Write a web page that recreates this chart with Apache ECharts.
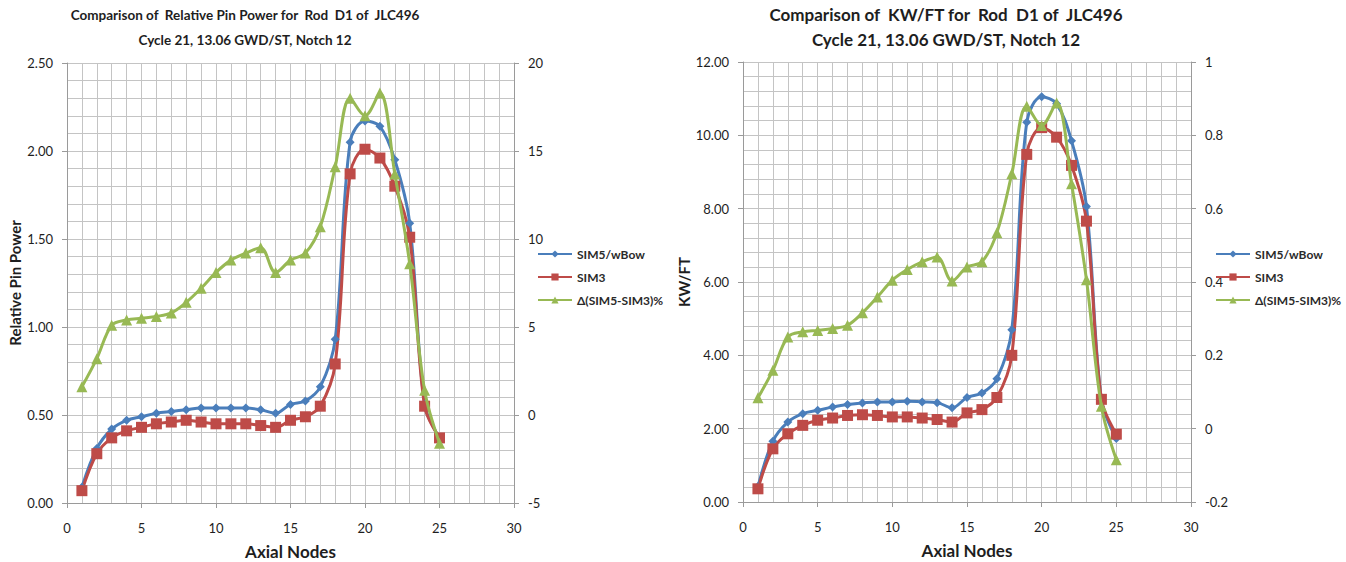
<!DOCTYPE html>
<html>
<head>
<meta charset="utf-8">
<script src="https://cdn.jsdelivr.net/npm/echarts@6/dist/echarts.min.js"></script>
<style>
  body { margin: 0; background: #fff; }
  .chart { position: absolute; top: 0; width: 673px; height: 562px; }
</style>
</head>
<body>
<div id="chartPin" class="chart" style="left:0"></div>
<div id="chartKw" class="chart" style="left:673px"></div>
<script>
// axial node numbers
var nodes = [1,2,3,4,5,6,7,8,9,10,11,12,13,14,15,16,17,18,19,20,21,22,23,24,25];

// relative pin power
var pinSim5 = [0.09,0.31,0.42,0.47,0.49,0.51,0.52,0.53,0.54,0.54,0.54,0.54,0.53,0.51,0.56,0.58,0.66,0.93,2.05,2.17,2.14,1.95,1.59,0.56,0.37];
var pinSim3 = [0.07,0.28,0.37,0.41,0.43,0.45,0.46,0.47,0.46,0.45,0.45,0.45,0.44,0.43,0.47,0.49,0.55,0.79,1.87,2.01,1.96,1.80,1.51,0.55,0.37];
var pinDiff = [1.6,3.2,5.1,5.4,5.5,5.6,5.8,6.4,7.2,8.1,8.8,9.2,9.5,8.1,8.8,9.2,10.7,14.1,18.0,17.0,18.3,13.7,8.6,1.4,-1.6];

// KW/FT
var kwSim5 = [0.42,1.66,2.18,2.41,2.50,2.59,2.66,2.70,2.73,2.73,2.75,2.73,2.71,2.57,2.85,2.97,3.36,4.70,10.36,11.05,10.86,9.85,8.06,2.79,1.73];
var kwSim3 = [0.36,1.45,1.86,2.09,2.23,2.29,2.36,2.38,2.36,2.32,2.32,2.29,2.25,2.18,2.43,2.52,2.85,4.00,9.48,10.21,9.95,9.18,7.66,2.80,1.85];
var kwDiff = [0.084,0.159,0.250,0.264,0.268,0.273,0.282,0.316,0.359,0.405,0.434,0.455,0.468,0.403,0.441,0.455,0.534,0.695,0.879,0.827,0.888,0.668,0.406,0.061,-0.085];

var seriesNames = ['SIM5/wBow', 'SIM3', '\u0394(SIM5-SIM3)%'];

var FONT = 'Lato, "Liberation Sans", sans-serif';
var gridColor = '#c4c4c4';
var axisColor = '#9a9a9a';
var txt = '#1e1e1e';

function pairs(ys) {
  var out = [];
  for (var i = 0; i < nodes.length; i++) out.push([nodes[i], ys[i]]);
  return out;
}

function lineSeries(name, data, color, symbol, size, yIdx) {
  return {
    name: name,
    type: 'line',
    yAxisIndex: yIdx,
    smooth: 0.35,
    data: pairs(data),
    symbol: symbol,
    symbolSize: size,
    lineStyle: { color: color, width: 3 },
    itemStyle: { color: color },
    z: yIdx === 1 ? 3 : 2
  };
}

function buildOption(cfg) {
  return {
    animation: false,
    textStyle: { fontFamily: FONT },
    title: {
      text: cfg.title + '\nCycle 21, 13.06 GWD/ST, Notch 12',
      left: cfg.titleX,
      top: -3,
      textAlign: 'center',
      textStyle: { fontFamily: FONT, fontSize: cfg.titleSize, fontWeight: 'bold', color: txt, lineHeight: 25 }
    },
    legend: {
      orient: 'vertical',
      left: cfg.legendX,
      top: 243,
      itemGap: 11,
      itemWidth: 34,
      itemHeight: 9,
      textStyle: { fontFamily: FONT, fontSize: 12, fontWeight: 'bold', color: '#2a2a2a' },
      data: seriesNames
    },
    grid: cfg.grid,
    xAxis: {
      type: 'value',
      min: 0, max: 30, interval: 5,
      name: 'Axial Nodes',
      nameLocation: 'middle',
      nameGap: 40,
      nameMoveOverlap: false,
      nameTextStyle: { fontFamily: FONT, fontSize: 17, fontWeight: 'bold', color: txt },
      axisLine: { lineStyle: { color: axisColor } },
      axisTick: { show: true, length: 5, lineStyle: { color: axisColor } },
      axisLabel: { margin: 18, fontSize: 13, color: txt },
      splitLine: { show: true, lineStyle: { color: gridColor } },
      minorTick: { show: false, splitNumber: 5 },
      minorSplitLine: { show: true, lineStyle: { color: gridColor } }
    },
    yAxis: [{
      type: 'value',
      min: 0, max: cfg.yMax, interval: cfg.yStep,
      name: cfg.yName,
      nameLocation: 'middle',
      nameGap: cfg.yNameGap,
      nameMoveOverlap: false,
      nameTextStyle: { fontFamily: FONT, fontSize: 15, fontWeight: 'bold', color: txt },
      axisLine: { show: true, lineStyle: { color: axisColor } },
      axisTick: { show: true, length: 5, lineStyle: { color: axisColor } },
      axisLabel: { margin: 14, fontSize: 13, color: txt, formatter: function (v) { return v.toFixed(2); } },
      splitLine: { show: true, lineStyle: { color: gridColor } },
      minorTick: { show: false, splitNumber: 5 },
      minorSplitLine: { show: true, lineStyle: { color: gridColor } }
    }, {
      type: 'value',
      min: cfg.y2Min, max: cfg.y2Max, interval: cfg.y2Step,
      position: 'right',
      axisLine: { show: true, lineStyle: { color: axisColor } },
      axisTick: { show: true, length: 5, lineStyle: { color: axisColor } },
      axisLabel: { margin: 14, fontSize: 13, color: txt, formatter: function (v) { return String(Math.round(v * 10) / 10); } },
      splitLine: { show: false }
    }],
    series: [
      lineSeries(seriesNames[0], cfg.s1, '#4a7ebb', 'diamond', 9, 0),
      lineSeries(seriesNames[1], cfg.s2, '#be4b48', 'rect', 11, 0),
      lineSeries(seriesNames[2], cfg.s3, '#98b954', 'triangle', 11, 1)
    ]
  };
}

var pinChart = echarts.init(document.getElementById('chartPin'), null, { renderer: 'svg' });
pinChart.setOption(buildOption({
  title: 'Comparison of  Relative Pin Power for  Rod  D1 of  JLC496',
  titleX: 240,
  titleSize: 13.5,
  legendX: 532,
  grid: { left: 67, right: 159, top: 63, bottom: 59, outerBoundsMode: 'none' },
  yMax: 2.5, yStep: 0.5, yName: 'Relative Pin Power', yNameGap: 45,
  y2Min: -5, y2Max: 20, y2Step: 5,
  s1: pinSim5, s2: pinSim3, s3: pinDiff
}));

var kwChart = echarts.init(document.getElementById('chartKw'), null, { renderer: 'svg' });
kwChart.setOption(buildOption({
  title: 'Comparison of  KW/FT for  Rod  D1 of  JLC496',
  titleX: 268,
  titleSize: 17,
  legendX: 537,
  grid: { left: 70, right: 155, top: 62, bottom: 60, outerBoundsMode: 'none' },
  yMax: 12, yStep: 2, yName: 'KW/FT', yNameGap: 52,
  y2Min: -0.2, y2Max: 1, y2Step: 0.2,
  s1: kwSim5, s2: kwSim3, s3: kwDiff
}));
</script>
</body>
</html>
